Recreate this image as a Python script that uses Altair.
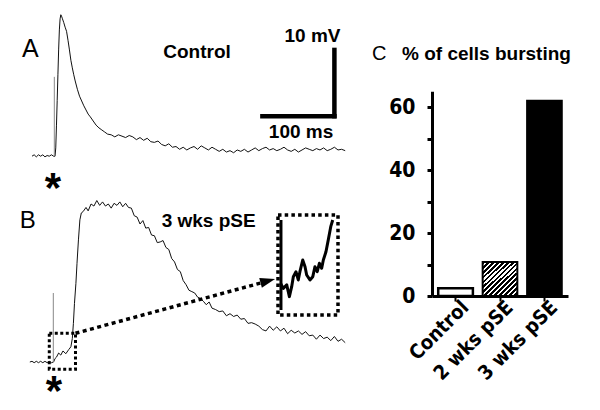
import altair as alt
import pandas as pd

# ---------------- data ----------------
# Panel A (Control) trace: time (ms) and depolarisation above rest (mV)
a_time = [0, 3, 6, 9, 12, 15, 18, 21, 24, 27, 30, 32, 33, 34, 35, 36, 37, 38, 39, 40,
          41, 42, 44, 46, 48, 50, 52, 54, 56, 58, 60, 63, 66, 69, 72, 75, 78, 81, 85, 89,
          93, 97, 101, 105,
          110, 115, 120, 125, 130, 135, 140, 145, 150, 155,
          160, 165, 170, 175, 180, 185, 190, 195, 200, 205,
          210, 215, 220, 225, 230, 235, 240, 245, 250, 255,
          260, 265, 270, 275, 280, 285, 290, 295, 300, 305,
          310, 315, 320, 325, 330, 335, 340, 345, 350, 355,
          360, 365, 370, 375, 380, 385, 390, 395, 400, 405,
          410, 415, 420, 425, 430, 435]
a_mv = [-0.1, 0.1, -0.2, 0.1, -0.1, 0.1, -0.2, 0.0, -0.1, 0.1, -0.1, -0.1, 1.1, 4.4, 8.0, 11.7, 15.3, 18.2, 19.8, 20.4,
        20.2, 19.9, 19.3, 18.6, 18.0, 16.7, 15.3, 13.8, 12.7, 11.7, 10.8, 9.6, 8.6, 7.9, 7.2, 6.6, 6.0, 5.6, 5.0, 4.4,
        4.0, 3.7, 3.4, 3.1,
        3.0, 2.7, 3.0, 2.8, 2.6, 2.9, 2.7, 2.3, 2.6, 2.2,
        2.5, 2.0, 1.9, 2.1, 1.6, 1.4, 1.7, 1.2, 1.3, 0.9,
        1.2, 0.8, 1.1, 1.3, 0.9, 1.4, 1.1, 0.8, 1.2, 0.9,
        0.6, 0.9, 0.5, 0.7, 0.4, 0.8, 0.6, 0.9, 0.5, 0.8,
        1.1, 0.7, 1.0, 1.2, 0.8, 1.0, 0.7, 0.9, 1.2, 0.8,
        0.6, 0.9, 0.5, 0.8, 1.1, 0.9, 0.7, 1.0, 0.8, 1.1,
        0.7, 0.9, 1.2, 0.8, 0.9, 0.7]

# Panel B (3 wks pSE) trace
b_time = [-3, 0, 3, 6, 9, 12, 15, 18, 21, 24, 27, 30, 32, 34, 37, 40, 43, 47, 51, 54,
          56, 57.5, 59, 61, 62.5, 64.5, 66.5, 68.5,
          71, 75, 78, 82, 86, 90, 94, 98, 102, 106,
          110, 114, 118, 122, 126, 130, 134, 138, 142, 146,
          150, 154, 158, 162, 166, 170, 174, 178, 182, 186,
          190, 194, 198, 202, 206, 210, 214, 218, 222, 226,
          230, 234, 238, 242, 246, 250, 255, 260, 265, 270,
          275, 280, 285, 290, 295, 300, 305, 310, 315, 320,
          325, 330, 335, 340, 345, 350, 355, 360, 365, 370,
          375, 380, 385, 390, 395, 400, 405, 410, 415, 420,
          425, 430, 435]
b_mv = [0.0, 0.1, -0.1, 0.1, -0.1, 0.1, -0.1, 0.1, -0.1, 0.1, -0.1, 0.0, 0.5, 0.7, 1.3, 1.0, 1.6, 1.2, 1.8, 2.2,
        3.4, 5.6, 8.5, 11.4, 14.3, 17.7, 20.6, 21.6,
        21.8, 22.4, 21.9, 22.9, 22.6, 23.4, 22.7, 23.2, 22.6, 22.9,
        22.3, 23.0, 22.7, 23.2, 22.5, 23.0, 22.4, 22.3, 21.2, 21.0,
        20.0, 20.5, 19.4, 19.5, 18.4, 18.3, 17.3, 17.4, 17.6, 16.6,
        16.3, 15.0, 14.5, 13.4, 13.1, 11.8, 11.2, 10.4, 10.2, 10.0,
        9.4, 9.2, 8.8, 8.3, 8.7, 7.8, 7.6, 7.3, 7.4, 6.7,
        7.0, 6.6, 6.8, 6.2, 6.3, 5.6, 5.7, 5.5, 5.2, 4.7,
        4.5, 5.2, 4.6, 5.1, 4.5, 4.9, 4.1, 4.6, 4.2, 4.5,
        4.0, 4.4, 3.8, 3.9, 3.3, 3.9, 3.4, 3.6, 3.1, 3.7,
        3.0, 3.3, 2.8]

# Inset (magnified start of the B response)
i_time = [25.6, 27.2, 29.3, 30.9, 32.3, 33.3, 34.9, 36.3, 37.3, 39.0, 40.4, 41.4, 43.4, 45.1,
          46.4, 47.8, 49.1, 50.5, 51.5, 53.1, 54.5, 56.0, 57.2]
i_mv = [0.59, 0.33, 0.51, -0.10, 0.42, 0.94, 1.20, 0.77, 1.20, 1.81, 1.46, 1.03, 0.77, 0.94,
        1.46, 1.20, 1.64, 1.38, 1.81, 2.24, 2.86, 3.55, 3.90]

# Stimulus artefacts (time, height)
stim_a = [31.0, 11.4]
stim_b = [29.6, 10.0]
stim_i = [25.8, -0.80, 3.90]

# Region magnified in the inset (ms, mV)
box_t = [24.0, 60.4]
box_v = [-1.06, 4.16]

# Scale bar: 100 ms, 10 mV
bar_t = [320.0, 420.0]
bar_v = [5.7, 15.3]

# Panel C
groups = ["Control", "2 wks pSE", "3 wks pSE"]
pct = [2.5, 10.8, 62.0]

# ---------------- scales ----------------
XA = alt.Scale(domain=[0, 450], range=[24, 348], nice=False, zero=False)
YA = alt.Scale(domain=[0, 20], range=[147.5, 9.5], nice=False, zero=False)
YB = alt.Scale(domain=[0, 20], range=[354, 216], nice=False, zero=False)
XI = alt.Scale(domain=box_t, range=[270, 330], nice=False, zero=False)
YI = alt.Scale(domain=box_v, range=[307, 207], nice=False, zero=False)
XC = alt.Scale(domain=groups, range=[424, 560], paddingInner=0.22, paddingOuter=0.14)
YC = alt.Scale(domain=[0, 65], range=[288, 83.25], nice=False, zero=True)

FONT = "Liberation Sans"
NARROW = "Liberation Sans Narrow, DejaVu Sans Condensed, Liberation Sans"


def xq(field, sc):
    return alt.X(field, type="quantitative", scale=sc, axis=None)


def yq(field, sc):
    return alt.Y(field, type="quantitative", scale=sc, axis=None)


def texts(df, sx, sy, **kw):
    return alt.Chart(df).mark_text(font=FONT, color="black", **kw).encode(
        x=xq("t", sx), y=yq("v", sy), text="label:N")


# ---------------- panel A ----------------
a_df = pd.DataFrame({"t": a_time, "v": a_mv})
trace_a = alt.Chart(a_df).mark_line(color="#111111", strokeWidth=1).encode(
    x=xq("t", XA), y=yq("v", YA))
stim_a_df = pd.DataFrame({"t": [stim_a[0]], "v": [0.0], "v2": [stim_a[1]]})
stim_a_m = alt.Chart(stim_a_df).mark_rule(color="#888888", strokeWidth=1).encode(
    x=xq("t", XA), y=yq("v", YA), y2="v2")
sb_df = pd.DataFrame({"t": [bar_t[0], bar_t[1]], "t2": [bar_t[1], bar_t[1]],
                      "v": [bar_v[0], bar_v[0]], "v2": [bar_v[0], bar_v[1]]})
scalebar = alt.Chart(sb_df).mark_rule(color="black", strokeWidth=4.5, strokeCap="square").encode(
    x=xq("t", XA), x2="t2", y=yq("v", YA), y2="v2")
a_letter = texts(pd.DataFrame({"t": [-13.9], "v": [14.3], "label": ["A"]}), XA, YA,
                 fontSize=25, align="left", baseline="alphabetic")
a_bold = texts(pd.DataFrame({"t": [229.2], "v": [14.1], "label": ["Control"]}), XA, YA,
               fontSize=19, fontWeight="bold", align="center", baseline="alphabetic")
a_sb = texts(pd.DataFrame({"t": [428.5, 418.5], "v": [16.5, 2.5], "label": ["10 mV", "100 ms"]}), XA, YA,
             fontSize=19, fontWeight="bold", align="right", baseline="alphabetic")
a_star = texts(pd.DataFrame({"t": [29.2], "v": [-6.8], "label": ["*"]}), XA, YA,
               fontSize=42, fontWeight="bold", align="center", baseline="alphabetic")
panel_a = alt.layer(trace_a, stim_a_m, scalebar, a_letter, a_bold, a_sb, a_star)

# ---------------- panel B ----------------
b_df = pd.DataFrame({"t": b_time, "v": b_mv})
trace_b = alt.Chart(b_df).mark_line(color="#111111", strokeWidth=1).encode(
    x=xq("t", XA), y=yq("v", YB))
stim_b_df = pd.DataFrame({"t": [stim_b[0]], "v": [0.0], "v2": [stim_b[1]]})
stim_b_m = alt.Chart(stim_b_df).mark_rule(color="#888888", strokeWidth=1).encode(
    x=xq("t", XA), y=yq("v", YB), y2="v2")
box_df = pd.DataFrame({"t": [box_t[0]], "t2": [box_t[1]], "v": [box_v[0]], "v2": [box_v[1]]})
small_box = alt.Chart(box_df).mark_rect(fillOpacity=0, stroke="black", strokeWidth=3,
                                        strokeDash=[3, 2.5]).encode(
    x=xq("t", XA), x2="t2", y=yq("v", YB), y2="v2")
arrow_df = pd.DataFrame({"t": [box_t[1]], "t2": [318.0], "v": [box_v[1]], "v2": [11.46]})
arrow_line = alt.Chart(arrow_df).mark_rule(color="black", strokeWidth=3.5, strokeDash=[4, 3.5]).encode(
    x=xq("t", XA), x2="t2", y=yq("v", YB), y2="v2")
head_df = pd.DataFrame({"t": [327.5], "v": [11.74]})
arrow_head = alt.Chart(head_df).mark_point(shape="M-1,-0.67L1,0L-1,0.67Z", filled=True, size=225,
                                           angle=344.8, color="black", opacity=1).encode(
    x=xq("t", XA), y=yq("v", YB))
b_letter = texts(pd.DataFrame({"t": [-17.0], "v": [19.4], "label": ["B"]}), XA, YB,
                 fontSize=24, align="left", baseline="alphabetic")
b_bold = texts(pd.DataFrame({"t": [180.1], "v": [19.6], "label": ["3 wks pSE"]}), XA, YB,
               fontSize=19, fontWeight="bold", align="left", baseline="alphabetic")
b_star = texts(pd.DataFrame({"t": [30.6], "v": [-6.3], "label": ["*"]}), XA, YB,
               fontSize=42, fontWeight="bold", align="center", baseline="alphabetic")
panel_b = alt.layer(trace_b, stim_b_m, small_box, arrow_line, arrow_head, b_letter, b_bold, b_star)

# ---------------- inset ----------------
i_df = pd.DataFrame({"t": i_time, "v": i_mv})
trace_i = alt.Chart(i_df).mark_line(color="black", strokeWidth=3, strokeJoin="round").encode(
    x=xq("t", XI), y=yq("v", YI))
stim_i_df = pd.DataFrame({"t": [stim_i[0]], "v": [stim_i[1]], "v2": [stim_i[2]]})
stim_i_m = alt.Chart(stim_i_df).mark_rule(color="black", strokeWidth=3).encode(
    x=xq("t", XI), y=yq("v", YI), y2="v2")
inset_box = alt.Chart(box_df).mark_rect(fillOpacity=0, stroke="black", strokeWidth=3.5,
                                        strokeDash=[3.5, 3.2]).encode(
    x=xq("t", XI), x2="t2", y=yq("v", YI), y2="v2")
panel_i = alt.layer(trace_i, stim_i_m, inset_box)

# ---------------- panel C ----------------
stops = []
n_stripes = 14
for k in range(n_stripes):
    a0 = k / n_stripes
    a1 = (k + 0.55) / n_stripes
    a2 = (k + 1) / n_stripes
    stops += [alt.GradientStop(color="black", offset=a0), alt.GradientStop(color="black", offset=a1),
              alt.GradientStop(color="white", offset=a1), alt.GradientStop(color="white", offset=a2)]
hatch = alt.Gradient(gradient="linear", stops=stops, x1=0, y1=0, x2=1, y2=1)

x_axis = alt.Axis(orient="bottom", offset=-106, title=None, grid=False, domainColor="black",
                  domainWidth=3, tickColor="black", tickWidth=2, tickSize=5, labelAngle=315,
                  labelAlign="right", labelBaseline="middle", labelPadding=3, labelOffset=10,
                  labelFont=NARROW, labelFontWeight="bold", labelFontSize=20,
                  labelColor="black")
y_axis = alt.Axis(orient="left", offset=-424, title=None, grid=False, domainColor="black",
                  domainWidth=3, tickColor="black", tickWidth=3, tickSize=5,
                  values=[0, 10, 20, 30, 40, 50, 60],
                  labelExpr="datum.value % 20 == 0 ? datum.label : ''",
                  labelPadding=12, labelFont=NARROW, labelFontWeight="bold",
                  labelFontSize=21, labelColor="black")

c_df = pd.DataFrame({"group": groups, "pct": pct})


def bars(name, **kw):
    return alt.Chart(c_df).transform_filter(alt.datum.group == name).mark_bar(**kw).encode(
        x=alt.X("group:N", scale=XC, sort=groups, axis=x_axis),
        y=alt.Y("pct:Q", scale=YC, axis=y_axis))


bar_ctrl = bars("Control", color="white", stroke="black", strokeWidth=2.5)
bar_2 = bars("2 wks pSE", color=hatch, stroke="black", strokeWidth=2)
bar_3 = bars("3 wks pSE", color="black", stroke="black", strokeWidth=2)
c_letter = alt.Chart(pd.DataFrame({"label": ["C"]})).mark_text(
    font=FONT, fontSize=20, align="left", baseline="alphabetic", color="black").encode(
    x=alt.value(364), y=alt.value(52), text="label:N")
c_title = alt.Chart(pd.DataFrame({"label": ["% of cells bursting"]})).mark_text(
    font=FONT, fontSize=19, fontWeight="bold", align="left", baseline="alphabetic", color="black").encode(
    x=alt.value(394), y=alt.value(52), text="label:N")
panel_c = alt.layer(bar_ctrl, bar_2, bar_3, c_letter, c_title)

chart = alt.layer(panel_a, panel_b, panel_i, panel_c).resolve_scale(
    x="independent", y="independent").properties(
    width=584, height=394, padding=0, autosize=alt.AutoSizeParams(type="none"),
    background="white").configure_view(stroke=None)

chart.save("out.html", embed_options={"renderer": "svg", "actions": False})
